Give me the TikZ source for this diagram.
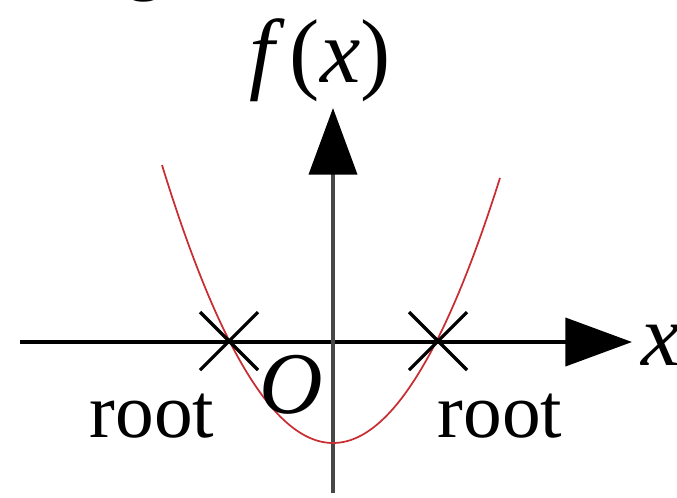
\documentclass[tikz,border=0pt]{standalone}
\usepackage{fontspec}
\setmainfont{Liberation Serif}
\usetikzlibrary{arrows.meta}
\definecolor{curvered}{RGB}{200,45,50}
\begin{document}
\begin{tikzpicture}[x=0.75pt,y=-0.75pt,
  axis/.style={line width=3pt,-{Triangle[length=50pt,width=36pt,color=black]}},
  crossline/.style={line width=2.4pt,black},
  rootlabel/.style={inner sep=0pt,anchor=base,font=\fontsize{58}{62}\selectfont},
  mathlabel/.style={inner sep=0pt,font=\fontsize{66}{70}\selectfont}]
\useasboundingbox (0,0) rectangle (677,497);
% fragment of cropped text at top
\node[rootlabel] (frag) at (145,-15) {g};
% axes
\coordinate (xstart) at (20,342);
\coordinate (xend) at (632,342);
\coordinate (ystart) at (333,493);
\coordinate (yend) at (333,108);
\draw[axis,black] (xstart) -- (xend);
\draw[axis,black!72] (ystart) -- (yend);
% parabola
\draw[curvered,line width=1.3pt] plot[domain=162:500,samples=80,smooth] (\x,{443-0.0095*(\x-333)*(\x-333)});
% roots
\coordinate (r1) at (229,341);
\coordinate (r2) at (438,341);
\foreach \r in {r1,r2}{
  \draw[crossline] ([shift={(-29,-29)}]\r) -- ([shift={(29,29)}]\r);
  \draw[crossline] ([shift={(-29,29)}]\r) -- ([shift={(29,-29)}]\r);
}
% labels
\node[rootlabel] (root1) at (152,437) {root};
\node[rootlabel] (root2) at (500,437) {root};
\node[mathlabel,anchor=base] (origin) at (291,413) {\textit{O}};
\node[mathlabel,anchor=base west] (xlab) at (641,365) {\textit{x}};
\node[mathlabel,anchor=base,font=\fontsize{68}{72}\selectfont] (flab) at (320,82) {\textit{f\,}(\textit{x})};
\end{tikzpicture}
\end{document}
